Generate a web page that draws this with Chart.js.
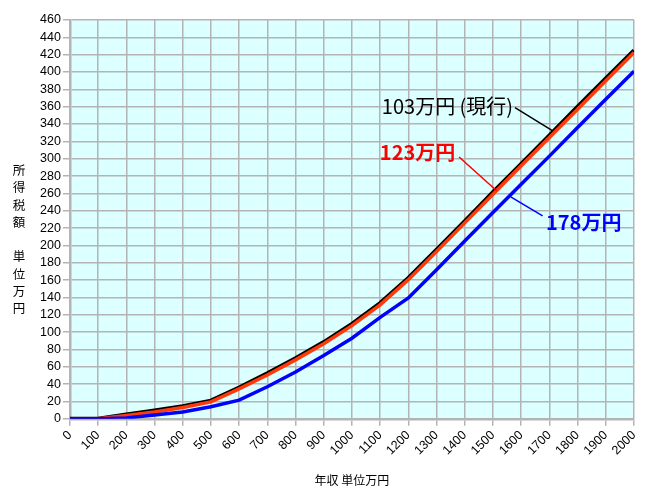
<!DOCTYPE html>
<html lang="ja">
<head>
<meta charset="utf-8">
<title>所得税額</title>
<script src="https://cdn.jsdelivr.net/npm/chart.js@4.4.1/dist/chart.umd.min.js"></script>
<style>
  html, body { margin: 0; padding: 0; background: #fff; }
  #wrap { position: relative; width: 649px; height: 491px; }
  #yTitle {
    position: absolute; left: 12px; top: 161px; width: 14px;
    font: 12.5px "Noto Sans CJK JP", sans-serif; line-height: 17.3px;
    text-align: center; color: #000;
  }
</style>
</head>
<body>
<div id="wrap">
  <canvas id="chart" width="649" height="491"></canvas>
  <div id="yTitle">所<br>得<br>税<br>額<br><br>単<br>位<br>万<br>円</div>
</div>
<script>
// 年収 (万円)
const incomes = [0, 100, 200, 300, 400, 500, 600, 700, 800, 900, 1000,
                 1100, 1200, 1300, 1400, 1500, 1600, 1700, 1800, 1900, 2000];

// 所得税額 (万円) — 基礎控除ライン別
const tax103 = [0, 0, 5, 9.5, 14.5, 21, 36, 52.5, 70, 88.5, 109.5,
                133.5, 162.5, 195, 228, 261.5, 294, 327, 360, 392.5, 425];
const tax123 = [0, 0, 4, 8, 13, 19.5, 34.5, 50.5, 68, 86.5, 107.5,
                131.5, 160.5, 193, 226, 259, 292, 324.5, 357, 390, 422.5];
const tax178 = [0, 0, 1, 4.5, 8, 14, 21.5, 37, 54, 73, 93,
                117, 139.5, 172, 205, 238, 270.5, 303, 336, 368.5, 401];

const seriesNames = ['103万円 (現行)', '123万円', '178万円'];
const seriesColors = ['#000000', '#ff3a0a', '#0000ff'];
const labelColors = ['#000000', '#ff0000', '#0000ff'];

// callout positions in data units: [text x, text y], leader line from / to
const calloutText = [[1106, 360], [1099, 307.5], [1688, 227]];
const calloutLine = [
    [[1578, 359], [1712, 332]],
    [[1380, 302], [1513, 263]],
    [[1563, 256], [1676, 234]]
];

const toPoints = (vals) => vals.map((v, i) => ({ x: incomes[i], y: v }));

const plotBg = {
    id: 'plotBg',
    beforeDraw(chart) {
        const { ctx, chartArea: a } = chart;
        ctx.save();
        ctx.fillStyle = '#dcffff';
        ctx.fillRect(a.left, a.top, a.right - a.left, a.bottom - a.top);
        ctx.restore();
    }
};

const callouts = {
    id: 'callouts',
    afterDatasetsDraw(chart) {
        const { ctx, scales: { x, y } } = chart;
        ctx.save();
        seriesNames.forEach((name, i) => {
            const [a, b] = calloutLine[i];
            ctx.strokeStyle = labelColors[i];
            ctx.lineWidth = 1.5;
            ctx.beginPath();
            ctx.moveTo(x.getPixelForValue(a[0]), y.getPixelForValue(a[1]));
            ctx.lineTo(x.getPixelForValue(b[0]), y.getPixelForValue(b[1]));
            ctx.stroke();

            ctx.fillStyle = labelColors[i];
            ctx.font = (i === 0 ? '' : 'bold ') + '20px "Noto Sans CJK JP", sans-serif';
            ctx.textBaseline = 'middle';
            ctx.textAlign = 'left';
            ctx.fillText(name, x.getPixelForValue(calloutText[i][0]), y.getPixelForValue(calloutText[i][1]));
        });
        ctx.restore();
    }
};

const tickFont = { family: '"Liberation Sans", Arial, sans-serif', size: 12.5 };
const gridColor = '#b4b4b4';

new Chart(document.getElementById('chart'), {
    type: 'line',
    data: {
        datasets: [
            { label: seriesNames[0], data: toPoints(tax103), borderColor: seriesColors[0], borderWidth: 4, order: 3 },
            { label: seriesNames[1], data: toPoints(tax123), borderColor: seriesColors[1], borderWidth: 3.5, order: 2 },
            { label: seriesNames[2], data: toPoints(tax178), borderColor: seriesColors[2], borderWidth: 3.5, order: 1 }
        ].map(d => Object.assign(d, { pointRadius: 0, tension: 0, fill: false }))
    },
    options: {
        responsive: false,
        animation: false,
        layout: { padding: { left: 38, right: 15, top: 20, bottom: 3.5 } },
        plugins: { legend: { display: false }, tooltip: { enabled: false } },
        scales: {
            x: {
                type: 'linear',
                min: 0,
                max: 2000,
                ticks: {
                    stepSize: 100,
                    autoSkip: false,
                    minRotation: 45,
                    maxRotation: 45,
                    color: '#000',
                    font: tickFont,
                    padding: 2,
                    callback: (v) => String(v)
                },
                grid: { color: gridColor, lineWidth: 1.5, tickLength: 7 },
                border: { color: gridColor, width: 2.5 },
                title: {
                    display: true,
                    text: '年収 単位万円',
                    color: '#000',
                    font: { family: '"Noto Sans CJK JP", sans-serif', size: 12 },
                    padding: { top: 13, bottom: 0 }
                }
            },
            y: {
                min: 0,
                max: 460,
                ticks: {
                    stepSize: 20,
                    autoSkip: false,
                    color: '#000',
                    font: tickFont,
                    padding: 2,
                    callback: (v) => String(v)
                },
                grid: { color: gridColor, lineWidth: 1.5, tickLength: 7 },
                border: { color: gridColor, width: 2.5 }
            }
        }
    },
    plugins: [plotBg, callouts]
});
</script>
</body>
</html>
